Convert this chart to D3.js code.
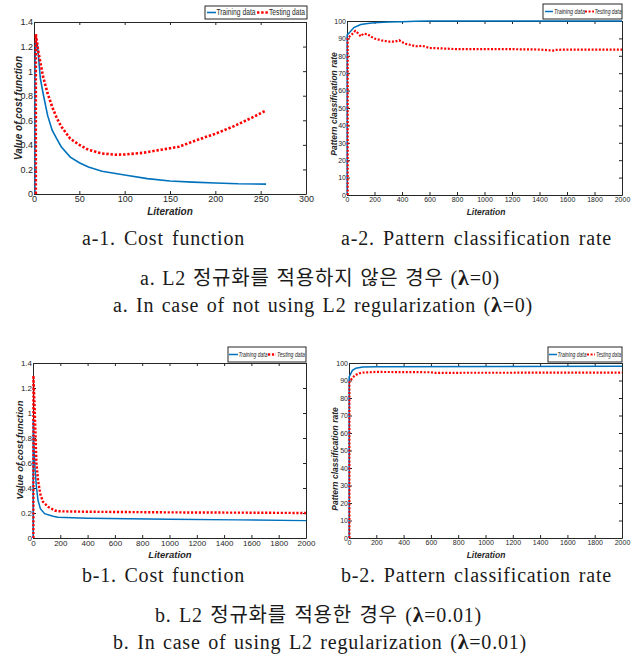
<!DOCTYPE html>
<html>
<head>
<meta charset="utf-8">
<script src="https://cdn.jsdelivr.net/npm/d3@7"></script>
<style>
  body { margin: 0; background: #fff; }
  svg { display: block; }
  .cap { font-family: "Liberation Serif", "Noto Sans CJK KR", serif; fill: #1a1a1a; font-size: 20px; letter-spacing: 0.8px; }
  .tick text { font-family: "Liberation Sans", Arial, sans-serif; fill: #262626; }
  .axlab { font-family: "Liberation Sans", Arial, sans-serif; font-weight: bold; font-style: italic; fill: #262626; }
  .leg { font-family: "Liberation Sans", Arial, sans-serif; fill: #262626; }
</style>
</head>
<body>
<svg id="fig" width="633" height="659"></svg>
<script>
// ---- data ----

// a-1: cost function, lambda = 0
var a1TrainX = [1, 1, 2, 4, 7, 10, 15, 20, 25, 30, 40, 50, 60, 75, 100, 125, 150, 175, 200, 225, 256];
var a1TrainY = [0, 1.05, 1.25, 1.2, 0.94, 0.82, 0.64, 0.52, 0.45, 0.385, 0.30, 0.255, 0.22, 0.185, 0.155, 0.125, 0.106, 0.097, 0.09, 0.083, 0.08];
var a1TestX = [2, 2, 5, 10, 15, 20, 25, 30, 40, 50, 60, 75, 90, 100, 120, 140, 160, 180, 200, 220, 240, 256];
var a1TestY = [0, 1.30, 1.15, 0.955, 0.82, 0.71, 0.62, 0.55, 0.45, 0.40, 0.36, 0.33, 0.32, 0.322, 0.335, 0.36, 0.385, 0.44, 0.49, 0.55, 0.62, 0.68];

// a-2: classification rate, lambda = 0
var a2TrainX = [1, 1, 20, 50, 100, 150, 200, 300, 400, 500, 600, 800, 2000];
var a2TrainY = [0, 92, 93.5, 96.2, 98, 98.6, 99, 99.4, 99.6, 99.8, 100, 100, 100];
var a2TestX = [5, 5, 20, 40, 60, 80, 100, 120, 150, 180, 200, 250, 300, 350, 380, 420, 450, 500, 550, 600, 700, 800, 1000, 1200, 1400, 1500, 1520, 1600, 2000];
var a2TestY = [0, 90, 91.2, 92.7, 94.3, 93, 91.2, 92.7, 92.4, 90.8, 89.9, 88.9, 88.2, 88.2, 88.9, 87, 86.5, 85.5, 85.7, 84.5, 84.2, 83.8, 83.8, 83.8, 83.6, 83.0, 83.4, 83.6, 83.6];

// b-1: cost function, lambda = 0.01
var b1TrainX = [1, 1, 2, 8, 15, 25, 37, 54, 85, 147, 182, 400, 1000, 1500, 2000];
var b1TrainY = [0, 0.6, 0.95, 0.7, 0.55, 0.41, 0.30, 0.235, 0.195, 0.174, 0.166, 0.158, 0.15, 0.145, 0.139];
var b1TestX = [3, 3, 12, 25, 37, 54, 73, 110, 160, 182, 400, 1000, 1500, 2000];
var b1TestY = [0, 1.30, 1.05, 0.6, 0.46, 0.35, 0.29, 0.25, 0.22, 0.214, 0.21, 0.205, 0.203, 0.2];

// b-2: classification rate, lambda = 0.01
var b2TrainX = [1, 1, 25, 50, 100, 200, 2000];
var b2TrainY = [0, 92, 95.8, 97, 97.7, 97.9, 98.1];
var b2TestX = [3, 3, 25, 50, 75, 100, 200, 600, 620, 2000];
var b2TestY = [0, 89, 91.6, 93.2, 94.1, 94.5, 94.9, 94.7, 94.4, 94.5];

// tick values
var costTicksY = [0, 0.2, 0.4, 0.6, 0.8, 1, 1.2, 1.4];
var rateTicksY = [0, 10, 20, 30, 40, 50, 60, 70, 80, 90, 100];
var shortTicksX = [0, 50, 100, 150, 200, 250, 300];
var longTicksX = [0, 200, 400, 600, 800, 1000, 1200, 1400, 1600, 1800, 2000];

var seriesNames = ['Training data', 'Testing data'];
var xTitle = 'Literation';
var costTitle = 'Value of cost function';
var rateTitle = 'Pattern classification rate';

var blue = '#0072BD';
var red = '#FF0000';

var svg = d3.select('#fig');

function zipXY(xs, ys) {
  return xs.map(function(v, i) { return [v, ys[i]]; });
}

// one MATLAB-style panel
function drawPanel(p) {
  var x = d3.scaleLinear().domain(p.xDomain).range([p.left, p.right]);
  var y = d3.scaleLinear().domain(p.yDomain).range([p.bottom, p.top]);
  var fmt = d3.format('~g');
  var g = svg.append('g');

  // axes: ticks point inward on all four sides
  var ax = [
    g.append('g').attr('transform', 'translate(0,' + p.bottom + ')')
      .call(d3.axisBottom(x).tickValues(p.xTicks).tickSizeInner(-3).tickSizeOuter(0).tickPadding(2).tickFormat(fmt)),
    g.append('g').attr('transform', 'translate(' + p.left + ',0)')
      .call(d3.axisLeft(y).tickValues(p.yTicks).tickSizeInner(-3).tickSizeOuter(0).tickPadding(1).tickFormat(fmt)),
    g.append('g').attr('transform', 'translate(0,' + p.top + ')')
      .call(d3.axisTop(x).tickValues(p.xTicks).tickSizeInner(-3).tickSizeOuter(0).tickFormat('')),
    g.append('g').attr('transform', 'translate(' + p.right + ',0)')
      .call(d3.axisRight(y).tickValues(p.yTicks).tickSizeInner(-3).tickSizeOuter(0).tickFormat(''))
  ];
  ax.forEach(function(a) {
    a.select('.domain').attr('stroke', '#262626');
    a.selectAll('.tick line').attr('stroke', '#262626');
    a.selectAll('.tick text').style('font-size', p.tickFont + 'px');
  });

  var line = d3.line().x(function(d) { return x(d[0]); }).y(function(d) { return y(d[1]); });

  g.append('path').datum(zipXY(p.trainX, p.trainY))
    .attr('d', line).attr('fill', 'none')
    .attr('stroke', blue).attr('stroke-width', p.lineW);
  g.append('path').datum(zipXY(p.testX, p.testY))
    .attr('d', line).attr('fill', 'none')
    .attr('stroke', red).attr('stroke-width', p.dotW)
    .attr('stroke-dasharray', p.dash);

  // axis titles
  g.append('text').attr('class', 'axlab')
    .attr('transform', 'translate(' + p.yLab[0] + ',' + p.yLab[1] + ') rotate(-90)')
    .attr('text-anchor', 'middle').attr('dy', '0.35em')
    .style('font-size', p.labFont + 'px')
    .text(p.yTitle);
  g.append('text').attr('class', 'axlab')
    .attr('x', p.xLab[0]).attr('y', p.xLab[1])
    .attr('text-anchor', 'middle')
    .style('font-size', p.labFont + 'px')
    .text(xTitle);

  // legend
  var L = p.legend;
  g.append('rect').attr('x', L.x).attr('y', L.y).attr('width', L.w).attr('height', L.h)
    .attr('fill', '#fff').attr('stroke', '#262626');
  var cy = L.y + L.h / 2;
  g.append('line').attr('x1', L.s1[0]).attr('x2', L.s1[1]).attr('y1', cy).attr('y2', cy)
    .attr('stroke', blue).attr('stroke-width', p.lineW);
  g.append('line').attr('x1', L.s2[0]).attr('x2', L.s2[1]).attr('y1', cy).attr('y2', cy)
    .attr('stroke', red).attr('stroke-width', p.dotW).attr('stroke-dasharray', p.dash);
  [L.t1, L.t2].forEach(function(t, i) {
    g.append('text').attr('class', 'leg')
      .attr('x', t[0]).attr('y', cy).attr('dy', '0.35em')
      .attr('textLength', t[1]).attr('lengthAdjust', 'spacingAndGlyphs')
      .style('font-size', L.font + 'px')
      .style('font-style', L.italic ? 'italic' : 'normal')
      .text(seriesNames[i]);
  });
}

drawPanel({
  left: 34, right: 306, top: 22, bottom: 194,
  xDomain: [0, 300], yDomain: [0, 1.4], xTicks: shortTicksX, yTicks: costTicksY,
  trainX: a1TrainX, trainY: a1TrainY, testX: a1TestX, testY: a1TestY,
  tickFont: 9, labFont: 10, lineW: 1.6, dotW: 2.6, dash: '2.4 1.8',
  yTitle: costTitle, yLab: [18, 108], xLab: [170, 215],
  legend: { x: 205, y: 6, w: 102, h: 13, font: 8.5, italic: false,
    s1: [207, 216], t1: [216.5, 39], s2: [257, 268], t2: [269, 36] }
});

drawPanel({
  left: 347, right: 622, top: 21, bottom: 195,
  xDomain: [0, 2000], yDomain: [0, 100], xTicks: longTicksX, yTicks: rateTicksY,
  trainX: a2TrainX, trainY: a2TrainY, testX: a2TestX, testY: a2TestY,
  tickFont: 7, labFont: 8.5, lineW: 1.5, dotW: 2.2, dash: '2 1.6',
  yTitle: rateTitle, yLab: [334, 104], xLab: [486, 215],
  legend: { x: 543, y: 4, w: 79, h: 15, font: 7, italic: true,
    s1: [545, 553], t1: [554, 31], s2: [585, 594], t2: [594.5, 27] }
});

drawPanel({
  left: 33, right: 306, top: 363, bottom: 538,
  xDomain: [0, 2000], yDomain: [0, 1.4], xTicks: longTicksX, yTicks: costTicksY,
  trainX: b1TrainX, trainY: b1TrainY, testX: b1TestX, testY: b1TestY,
  tickFont: 8, labFont: 9.5, lineW: 1.5, dotW: 2.4, dash: '2.2 1.7',
  yTitle: costTitle, yLab: [20, 450], xLab: [170, 558],
  legend: { x: 228, y: 347, w: 78, h: 15, font: 7, italic: true,
    s1: [229, 238], t1: [238.5, 29], s2: [268, 276], t2: [277, 28] }
});

drawPanel({
  left: 349, right: 622, top: 363, bottom: 538,
  xDomain: [0, 2000], yDomain: [0, 100], xTicks: longTicksX, yTicks: rateTicksY,
  trainX: b2TrainX, trainY: b2TrainY, testX: b2TestX, testY: b2TestY,
  tickFont: 7, labFont: 8.5, lineW: 1.5, dotW: 2.2, dash: '2 1.6',
  yTitle: rateTitle, yLab: [335, 459], xLab: [486, 558],
  legend: { x: 548, y: 347, w: 74, h: 15, font: 7, italic: true,
    s1: [549, 557], t1: [557.5, 29], s2: [587, 595], t2: [596, 25] }
});

// ---- captions ----
var captions = [
  { x: 82, y: 245, len: 163, parts: ['a-1. Cost function'] },
  { x: 341, y: 245, len: 271, parts: ['a-2. Pattern classification rate'] },
  { x: 140, y: 285, len: 360, parts: ['a. L2 정규화를 적용하지 않은 경우 (', 'λ', '=0)'] },
  { x: 113, y: 312, len: 420, parts: ['a. In case of not using L2 regularization (', 'λ', '=0)'] },
  { x: 82, y: 582, len: 163, parts: ['b-1. Cost function'] },
  { x: 341, y: 582, len: 271, parts: ['b-2. Pattern classification rate'] },
  { x: 155, y: 622, len: 327, parts: ['b. L2 정규화를 적용한 경우 (', 'λ', '=0.01)'] },
  { x: 113, y: 649, len: 414, parts: ['b. In case of using L2 regularization (', 'λ', '=0.01)'] }
];

// wide spaces as in the original typesetting: stretch word spacing to the measured width
captions.forEach(function(c) {
  var t = svg.append('text').attr('class', 'cap')
    .attr('x', c.x).attr('y', c.y);
  c.parts.forEach(function(s, i) {
    var ts = t.append('tspan').text(s);
    if (i === 1) ts.style('font-weight', 'bold').style('font-size', '22px');
  });
  var natural = t.node().getComputedTextLength();
  var spaces = c.parts.join('').split(' ').length - 1;
  var ws = Math.max(0, (c.len - natural) / spaces);
  t.style('word-spacing', ws + 'px');
});
</script>
</body>
</html>
